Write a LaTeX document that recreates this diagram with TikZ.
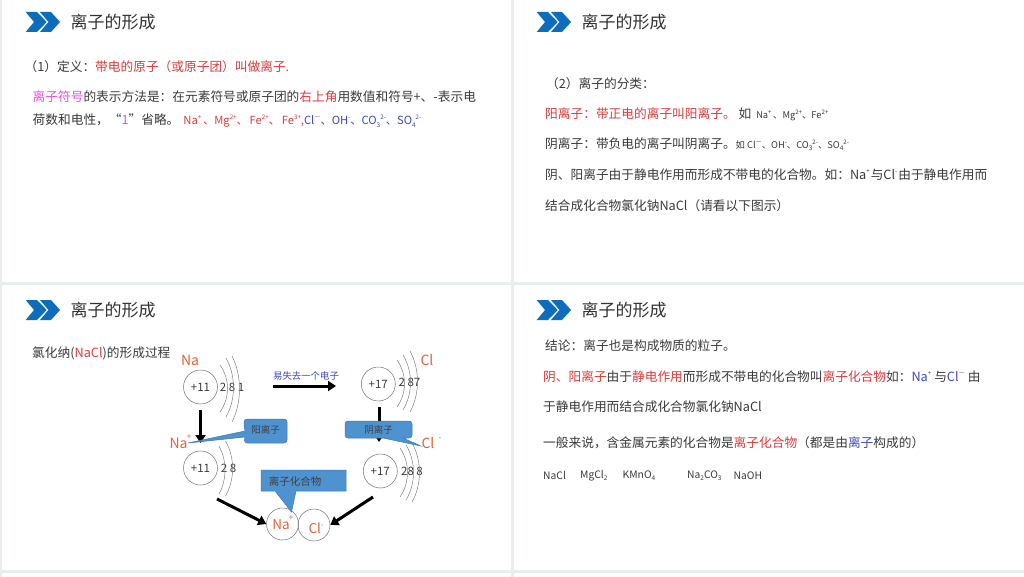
\documentclass[tikz,border=0pt]{standalone}
\usepackage{fontspec}
\setmainfont{Noto Sans CJK SC}
\usetikzlibrary{arrows.meta}
\definecolor{bgc}{HTML}{E9EFEF}
\definecolor{txt}{HTML}{3A3A3A}
\definecolor{rd}{HTML}{DD3B3B}
\definecolor{mg}{HTML}{E84FE0}
\definecolor{bl}{HTML}{3F47C0}
\definecolor{org}{HTML}{E0623A}
\definecolor{chev}{HTML}{0B6DBB}
\definecolor{call}{HTML}{4F92D0}
\definecolor{callb}{HTML}{3F78AE}
\newcommand\fs[1]{\fontsize{#1}{#1}\selectfont}
\newcommand\up[1]{\raisebox{.45em}{\fs{6.2}#1}}
\newcommand\dn[1]{\raisebox{-.25em}{\fs{6.5}#1}}
\newcommand\rd[1]{\textcolor{rd}{#1}}
\newcommand\bl[1]{\textcolor{bl}{#1}}
\newcommand\mg[1]{\textcolor{mg}{#1}}
\tikzset{
 panel/.style={fill=white,draw=none},
 ttl/.style={anchor=west,inner sep=0,text=black!80,font=\fs{17}},
 body/.style={anchor=west,inner sep=0,text=txt,font=\fs{12.7}},
 small/.style={anchor=west,inner sep=0,text=txt,font=\fs{10.3}},
 chevs/.style={fill=chev,draw=none},
 atom/.style={circle,draw=black!55,line width=.5pt,minimum size=34pt,inner sep=0,text=txt,font=\fs{11.5}},
 ionb/.style={circle,draw=black!55,line width=.5pt,minimum size=32pt,inner sep=0,text=org,font=\fs{13}},
 shell/.style={draw=black!50,line width=.5pt},
 stext/.style={inner sep=0,text=txt,font=\fs{11.5}},
 el/.style={inner sep=0,text=org,font=\fs{14}},
 elsup/.style={inner sep=0,text=org,font=\fs{8}},
 arr/.style={line width=3pt,black,-{Triangle[length=8pt,width=10pt]}},
 callbox/.style={fill=call,draw=callb,line width=.5pt},
 calltext/.style={inner sep=0,text=black!75,font=\fs{9.5}},
}
\newcommand\chevrons[2]{%
 \begin{scope}[shift={(#1,#2)}]
 \fill[chevs] (0,0)--(11.3,0)--(21,10)--(11.3,20)--(0,20)--(8.3,10)--cycle;
 \fill[chevs] (14.3,0)--(25.3,0)--(34.3,10)--(25.3,20)--(14.3,20)--(22.8,10)--cycle;
 \end{scope}}
\newcommand\shellarc[4]{\draw[shell] (#1,#2) .. controls ({#3-4},{#2+(#4-#2)*.3}) and ({#3-4},{#2+(#4-#2)*.7}) .. (#1,#4);}
\begin{document}
\begin{tikzpicture}[x=1pt,y=-1pt]
\useasboundingbox (0,0) rectangle (1024,577);
\fill[bgc] (0,0) rectangle (1024,577);
\fill[panel] (2,0) rectangle (511,282);
\fill[panel] (514,0) rectangle (1024,282);
\fill[panel] (2,285) rectangle (511,570);
\fill[panel] (514,285) rectangle (1024,570);
\fill[panel] (2,573) rectangle (511,577);
\fill[panel] (514,573) rectangle (1024,577);
\chevrons{25.7}{12}
\chevrons{536.7}{12}
\chevrons{25.7}{300}
\chevrons{536.7}{300}
\node[ttl] (t1) at (70.5,22) {离子的形成};
\node[ttl] (t2) at (581.5,22) {离子的形成};
\node[ttl] (t3) at (70.5,310) {离子的形成};
\node[ttl] (t4) at (581.5,310) {离子的形成};
% panel 1
\node[body] (a1) at (24.5,66.5) {（1）定义：\rd{带电的原子（或原子团）叫做离子.}};
\node[body] (a2) at (32.5,96.5) {\mg{离子符号}的表示方法是：在元素符号或原子团的\rd{右上角}用数值和符号+、-表示电};
\node[body] (a3) at (32.5,120.5) {荷数和电性，“\mg{1}”省略。\hspace{4pt}{\fs{11.2}\rd{Na\up{+}\,、Mg\up{2+}、\,Fe\up{2+}、\,Fe\up{3+},}\bl{Cl\up{－}、OH\up{-}、CO\dn{3}\up{2-}、SO\dn{4}\up{2-}}}};
% panel 2
\node[body] (b1) at (546,83.5) {（2）离子的分类：};
\node[body] (b2) at (545,114.5) {\rd{阳离子：带正电的离子叫阳离子。}\hspace{3pt}如 \hspace{2pt}{\fs{9.3}Na\up{+}\,、Mg\up{2+}、Fe\up{2+}}};
\node[body] (b3) at (545,144.5) {阴离子：带负电的离子叫阴离子。{\fs{9.3}如 Cl\up{－}、OH\up{-}、CO\dn{3}\up{2-}、SO\dn{4}\up{2-}}};
\node[body] (b4) at (545,174.5) {阴、阳离子由于静电作用而形成不带电的化合物。如：Na\up{+}\kern1pt 与Cl\up{-}\kern1pt 由于静电作用而};
\node[body] (b5) at (545,205.5) {结合成化合物氯化钠NaCl（请看以下图示）};
% panel 4
\node[body] (d1) at (545,345.5) {结论：离子也是构成物质的粒子。};
\node[body] (d2) at (543,376.5) {\rd{阴、阳离子}由于\rd{静电作用}而形成不带电的化合物叫\rd{离子化合物}如：\bl{Na\up{+}}\kern3pt 与\bl{Cl\up{－}}\kern3pt 由};
\node[body] (d3) at (543,406.5) {于静电作用而结合成化合物氯化钠NaCl};
\node[body] (d4) at (543,442.5) {一般来说，含金属元素的化合物是\rd{离子化合物}（都是由\bl{离子}构成的）};
\node[small] (f1) at (543,475.5) {NaCl};
\node[small] (f2) at (580,475.5) {MgCl\dn{2}};
\node[small] (f3) at (622.5,475.5) {KMnO\dn{4}};
\node[small] (f4) at (687,475.5) {Na\dn{2}CO\dn{3}};
\node[small] (f5) at (733.5,475.5) {NaOH};
% panel 3
\node[body] (c1) at (32,353.5) {氯化纳(\rd{NaCl})的形成过程};
\node[atom] (na) at (200.5,387) {+11};
\node[atom] (nap) at (200.5,468) {+11};
\node[atom] (cl) at (378.3,384) {+17};
\node[atom] (clm) at (380.3,471) {+17};
\node[ionb] (ina) at (282.5,524) {};
\node[ionb] (icl) at (314,525) {};
\node[inner sep=0,text=org,font=\fs{13.5}] (ina1) at (281,525) {Na};
\node[elsup] (ina2) at (291,518) {+};
\node[inner sep=0,text=org,font=\fs{13.5}] (icl1) at (316,528) {Cl\up{\fs{7}-}};
\node[stext] (s1) at (232,387) {2 8 1};
\node[stext] (s2) at (228.5,468) {2 8};
\node[stext] (s3) at (409.5,382) {2 87};
\node[stext] (s4) at (412,471) {28 8};
\shellarc{220}{365}{234}{412}
\shellarc{226}{358}{240}{417}
\shellarc{232}{356}{246}{422}
\shellarc{219}{446}{231}{494}
\shellarc{225.5}{441}{239}{496}
\shellarc{397}{360}{411}{407}
\shellarc{403}{355}{417}{410}
\shellarc{410}{351}{424}{412}
\shellarc{400}{448}{414}{497}
\shellarc{406}{445}{420}{500}
\shellarc{412}{443}{426}{502}
\node[el] (lna) at (190,360) {Na};
\node[el] (lnap) at (178.5,443) {Na};
\node[elsup] (lnap2) at (189,437) {+};
\node[el] (lcl) at (427,360) {Cl};
\node[el] (lclm) at (428,443) {Cl};
\node[elsup] (lclm2) at (440,439) {-};
\node[inner sep=0,text=bl,font=\fs{9.4}] (lose) at (306,376) {易失去一个电子};
\coordinate (r1) at (273,386);
\coordinate (r2) at (336,386);
\draw[arr] (r1) -- (r2);
\draw[arr] (na.south) ++(0,6) coordinate (d1s) -- (nap.north |- 0,443);
\draw[arr] (379,407) coordinate (d2s) -- (379,442);
\coordinate (g1) at (217,499);
\coordinate (g2) at (373,497);
\draw[arr] (g1) -- (ina.west);
\draw[arr] (g2) -- (icl.east);
% callouts
\draw[callbox] (188,443) -- (245,431) -- (244,425) [rounded corners=3pt] -- (244,419) -- (287,419) -- (287,443) -- (244,443) [sharp corners] -- (245,437) -- cycle;
\node[calltext] (cb1) at (265.5,429.5) {阳离子};
\draw[callbox] (421,446) -- (403,438) [rounded corners=3pt] -- (412,438) -- (412,421) -- (345,421) -- (345,438) [sharp corners] -- (383,438) -- cycle;
\node[calltext] (cb2) at (378.5,429.5) {阴离子};
\draw[callbox] (261,470) -- (346,470) -- (346,491) -- (296,491) -- (291.5,512) -- (275,491) -- (261,491) -- cycle;
\node[inner sep=0,text=black!75,font=\fs{10.5}] (cb3) at (295,481) {离子化合物};
\end{tikzpicture}
\end{document}
